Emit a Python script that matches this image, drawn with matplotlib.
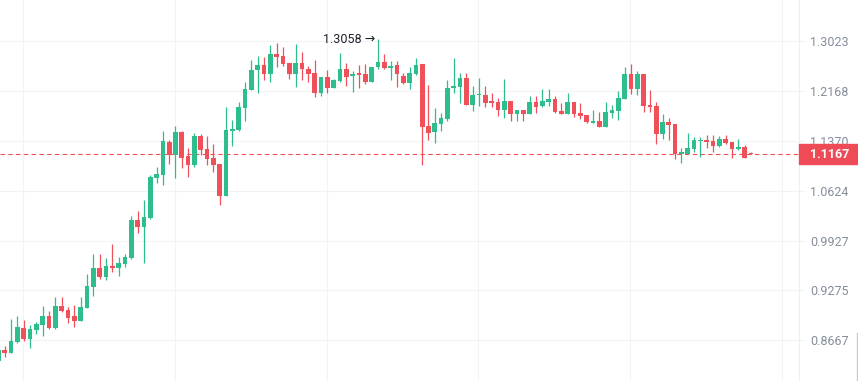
import numpy as np
import matplotlib.pyplot as plt
from matplotlib.patches import Rectangle
from matplotlib.lines import Line2D
from matplotlib.ticker import FixedLocator, FixedFormatter, NullLocator

# OHLC (one entry per candle, left to right)
opens = [0.8428, 0.8552, 0.8521, 0.8645, 0.8812, 0.8684, 0.8794, 0.8852, 0.8957, 0.8812,
         0.9080, 0.9030, 0.8957, 0.8900, 0.9059, 0.9321, 0.9562, 0.9449, 0.9588, 0.9562,
         0.9618, 0.9693, 1.0207, 1.0115, 1.0239, 1.0813, 1.0857, 1.1352, 1.1157, 1.1508,
         1.1133, 1.1007, 1.1445, 1.1240, 1.1103, 1.1013, 1.0551, 1.1523, 1.1539, 1.1894,
         1.2189, 1.2515, 1.2610, 1.2447, 1.2795, 1.2761, 1.2639, 1.2457, 1.2639, 1.2537,
         1.2469, 1.2139, 1.2401, 1.2222, 1.2339, 1.2537, 1.2418, 1.2469, 1.2457, 1.2322,
         1.2566, 1.2657, 1.2549, 1.2600, 1.2418, 1.2306, 1.2452, 1.2622, 1.1602, 1.1512,
         1.1638, 1.1713, 1.2212, 1.2234, 1.2384, 1.1943, 1.2096, 1.2106, 1.2003, 1.1982,
         1.1862, 1.2003, 1.1788, 1.1857, 1.1788, 1.1986, 1.1927, 1.1991, 1.2035, 1.1841,
         1.1798, 1.1986, 1.1809, 1.1777, 1.1654, 1.1681, 1.1591, 1.1814, 1.1846, 1.2040,
         1.2452, 1.2205, 1.2452, 1.1943, 1.1927, 1.1481, 1.1665, 1.1633, 1.1164, 1.1172,
         1.1249, 1.1372, 1.1383, 1.1363, 1.1295, 1.1399, 1.1352, 1.1244, 1.1275, 1.1188]
highs = [0.8564, 0.8598, 0.8920, 0.8957, 0.8908, 0.8848, 0.8880, 0.9080, 0.9018, 0.9192,
         0.9192, 0.9063, 0.9088, 0.9192, 0.9484, 0.9746, 0.9746, 0.9689, 0.9875, 0.9711,
         0.9746, 1.0263, 1.0333, 1.0489, 1.0853, 1.0972, 1.1523, 1.1388, 1.1602, 1.1523,
         1.1255, 1.1497, 1.1476, 1.1445, 1.1317, 1.1013, 1.1910, 1.1697, 1.1991, 1.2322,
         1.2691, 1.2761, 1.2748, 1.2958, 1.2988, 1.2923, 1.2645, 1.2965, 1.2835, 1.2593,
         1.2686, 1.2401, 1.2520, 1.2360, 1.2808, 1.2634, 1.2508, 1.2605, 1.2617, 1.2571,
         1.3058, 1.2795, 1.2669, 1.2669, 1.2469, 1.2571, 1.2731, 1.2630, 1.2267, 1.1885,
         1.1804, 1.2351, 1.2726, 1.2469, 1.2469, 1.2250, 1.2384, 1.2250, 1.2134, 1.2052,
         1.2363, 1.2003, 1.1857, 1.1857, 1.2085, 1.2085, 1.2196, 1.2196, 1.2085, 1.1966,
         1.2134, 1.1986, 1.1966, 1.1777, 1.1857, 1.1825, 1.1986, 1.1943, 1.2162, 1.2566,
         1.2622, 1.2503, 1.2452, 1.2179, 1.1991, 1.1788, 1.1734, 1.1633, 1.1265, 1.1492,
         1.1425, 1.1425, 1.1461, 1.1461, 1.1445, 1.1461, 1.1352, 1.1399, 1.1306, 1.1203]
lows = [0.8413, 0.8474, 0.8518, 0.8637, 0.8661, 0.8578, 0.8740, 0.8716, 0.8800, 0.8800,
        0.9009, 0.8876, 0.8820, 0.8892, 0.9055, 0.9204, 0.9416, 0.9411, 0.9506, 0.9458,
        0.9579, 0.9684, 1.0032, 0.9624, 1.0217, 1.0731, 1.0710, 1.1017, 1.0804, 1.0962,
        1.0828, 1.0977, 1.1157, 1.1007, 1.0902, 1.0422, 1.0551, 1.1291, 1.1528, 1.1686,
        1.2184, 1.2134, 1.2356, 1.2312, 1.2571, 1.2588, 1.2362, 1.2229, 1.2351, 1.2312,
        1.2073, 1.2090, 1.2129, 1.2215, 1.2322, 1.2255, 1.2156, 1.2217, 1.2279, 1.2312,
        1.2531, 1.2531, 1.2346, 1.2239, 1.2284, 1.2205, 1.2435, 1.0998, 1.1383, 1.1341,
        1.1523, 1.1686, 1.2129, 1.1975, 1.1943, 1.1836, 1.1927, 1.1901, 1.1910, 1.1766,
        1.1734, 1.1681, 1.1686, 1.1676, 1.1788, 1.1804, 1.1901, 1.1927, 1.1814, 1.1788,
        1.1798, 1.1750, 1.1708, 1.1645, 1.1654, 1.1582, 1.1591, 1.1734, 1.1702, 1.2040,
        1.2123, 1.2106, 1.1830, 1.1830, 1.1326, 1.1403, 1.1388, 1.1097, 1.1027, 1.1172,
        1.1203, 1.1127, 1.1265, 1.1203, 1.1280, 1.1326, 1.1103, 1.1229, 1.1112, 1.1164]
closes = [0.8552, 0.8523, 0.8657, 0.8824, 0.8684, 0.8800, 0.8860, 0.8957, 0.8812, 0.9080,
          0.9021, 0.8936, 0.8900, 0.9067, 0.9330, 0.9562, 0.9445, 0.9588, 0.9562, 0.9627,
          0.9707, 1.0207, 1.0111, 1.0249, 1.0823, 1.0868, 1.1368, 1.1157, 1.1503, 1.1112,
          1.1007, 1.1445, 1.1234, 1.1097, 1.1007, 1.0551, 1.1539, 1.1555, 1.1906, 1.2201,
          1.2520, 1.2610, 1.2447, 1.2795, 1.2748, 1.2617, 1.2457, 1.2639, 1.2531, 1.2457,
          1.2139, 1.2401, 1.2222, 1.2351, 1.2537, 1.2406, 1.2457, 1.2440, 1.2322, 1.2571,
          1.2657, 1.2549, 1.2588, 1.2452, 1.2306, 1.2469, 1.2605, 1.1591, 1.1497, 1.1649,
          1.1729, 1.2217, 1.2250, 1.2384, 1.1943, 1.2101, 1.2106, 1.1975, 1.1975, 1.1862,
          1.2003, 1.1788, 1.1857, 1.1788, 1.1986, 1.1910, 1.2003, 1.2035, 1.1830, 1.1798,
          1.1986, 1.1798, 1.1766, 1.1670, 1.1681, 1.1591, 1.1825, 1.1857, 1.2047, 1.2452,
          1.2205, 1.2452, 1.1927, 1.1910, 1.1481, 1.1665, 1.1622, 1.1172, 1.1198, 1.1260,
          1.1383, 1.1383, 1.1357, 1.1295, 1.1399, 1.1341, 1.1240, 1.1275, 1.1112, 1.1167]

tick_values = [1.3023, 1.2168, 1.1370, 1.0624, 0.9927, 0.9275, 0.8667]
tick_labels = ['1.3023', '1.2168', '1.1370', '1.0624', '0.9927', '0.9275', '0.8667']
peak_index = 60
peak_label = '1.3058'
last_price = 1.1167

up_color = '#2ebd8d'
down_color = '#ef5059'
grid_color = '#f2f3f5'

plt.rcParams['font.family'] = ['Roboto', 'DejaVu Sans']

fig = plt.figure(figsize=(8.58, 3.81), dpi=100)
ax = fig.add_axes([0, 0, 799 / 858, 1])
ax.set_yscale('log')

x = np.arange(len(opens))
o = np.array(opens)
c = np.array(closes)
colors = np.where(c >= o, up_color, down_color)

# wicks then bodies
ax.vlines(x, lows, highs, colors=colors, linewidth=0.9, zorder=3)
bottoms = np.minimum(o, c)
heights = np.maximum(np.abs(c - o), 0.0012 * c)
ax.bar(x, heights, bottom=bottoms, width=0.74, color=colors, linewidth=0, zorder=4)

ax.set_xlim(0.253, 126.58)
ax.set_ylim(0.8200, 1.3770)

ax.yaxis.set_major_locator(FixedLocator(tick_values))
ax.yaxis.set_major_formatter(FixedFormatter(tick_labels))
ax.yaxis.set_minor_locator(NullLocator())
ax.yaxis.tick_right()
ax.tick_params(axis='y', length=4, width=0.8, color=grid_color, pad=4,
               labelsize=9, labelcolor='#858e9c')
ax.set_xticks(np.arange(3.9, 127, 24))
ax.xaxis.set_minor_locator(NullLocator())
ax.tick_params(axis='x', length=0, labelbottom=False)
ax.grid(True, color=grid_color, linewidth=0.8)
ax.set_axisbelow(True)

for s in ['top', 'left', 'bottom']:
    ax.spines[s].set_visible(False)
ax.spines['right'].set_color('#eceef1')
ax.spines['right'].set_linewidth(0.8)

# current price line
ax.axhline(last_price, color=down_color, linewidth=0.8, linestyle=(0, (4, 3)), zorder=2)

# highest point label
ax.text(peak_index - 0.35, highs[peak_index], peak_label + ' \u2192', ha='right', va='center',
        fontsize=9, color='#1e222d', zorder=5)

# price tag on the axis
y_fig = ax.transData.transform((0, last_price))[1] / fig.bbox.height
fig.add_artist(Rectangle((799 / 858, y_fig - 10 / 381), 59 / 858, 20 / 381,
                         transform=fig.transFigure, color='#ee4b56', zorder=5))
fig.text(810 / 858, y_fig, '%.4f' % last_price, ha='left', va='center', fontsize=9,
         fontweight='bold', color='white', zorder=6)

fig.add_artist(Line2D([856.5 / 858, 856.5 / 858], [0, 48 / 381], color='#c9cdd3',
                      linewidth=1.0, transform=fig.transFigure))

fig.savefig('out.png', dpi=100, facecolor='white')
